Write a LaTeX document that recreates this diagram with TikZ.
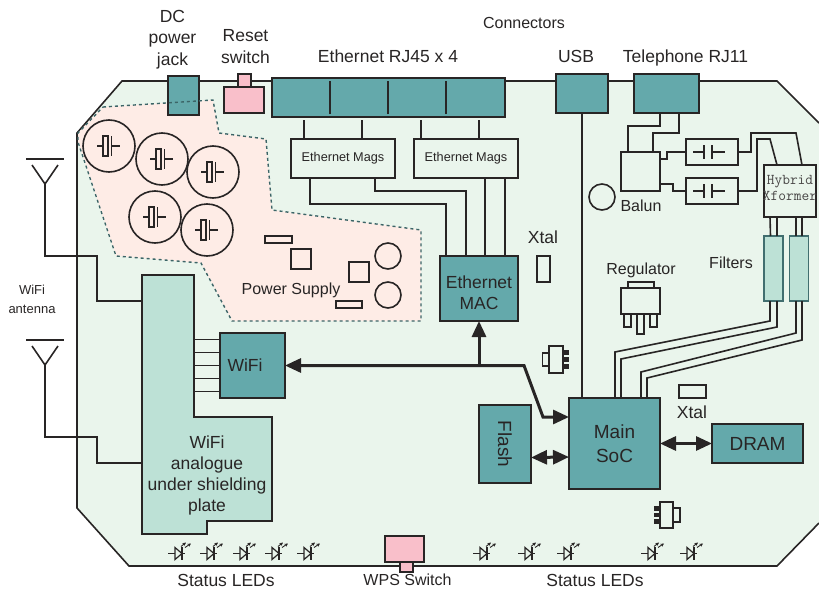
\documentclass[tikz,border=0pt]{standalone}
\usepackage{fontspec}
\setmainfont{Liberation Sans}
\definecolor{boardgreen}{RGB}{234, 245, 236}
\definecolor{portteal}{RGB}{100, 169, 171}
\definecolor{paleteal}{RGB}{189, 225, 214}
\definecolor{switchpink}{RGB}{249, 191, 202}
\definecolor{supplypink}{RGB}{254, 236, 230}
\definecolor{inkgrey}{RGB}{40, 37, 37}
\usetikzlibrary{arrows.meta, positioning, calc}

\begin{document}
\begin{tikzpicture}[
  x=1pt, y=-1pt,
  line width=1.6pt, draw=inkgrey, text=inkgrey,
  part/.style={draw=inkgrey, rectangle, inner sep=0pt, outer sep=0pt},
  tealbox/.style={part, fill=portteal, line width=1.7pt},
  pinkbox/.style={part, fill=switchpink, line width=1.6pt},
  filterbox/.style={part, fill=paleteal, draw=portteal!65!black, line width=1.4pt, minimum width=19pt, minimum height=65pt},
  magsbox/.style={part, minimum width=104pt, minimum height=39pt, font=\fontsize{12.7}{15}\selectfont},
  capbox/.style={part, minimum width=52pt, minimum height=26pt},
  smallpart/.style={part, fill=none},
  roundcan/.style={part, circle, minimum size=52pt},
  roundpart/.style={part, circle, minimum size=26pt},
  pinpart/.style={rectangle, inner sep=0pt, outer sep=0pt, fill=inkgrey, minimum width=6.5pt, minimum height=4.5pt},
  toplabel/.style={inner sep=0pt, align=center, font=\fontsize{17.5}{21.5}\selectfont},
  midlabel/.style={inner sep=0pt, align=center, font=\fontsize{16}{19}\selectfont},
  chiplabel/.style={inner sep=0pt, align=center, font=\fontsize{19}{24}\selectfont},
  bus/.style={line width=3pt, {Triangle[length=16pt,width=14pt]}-{Triangle[length=16pt,width=14pt]}},
  busup/.style={line width=3pt, -{Triangle[length=16pt,width=14pt]}},
  canmark/.pic={
    \draw (-12,0) -- (-6,0);
    \draw (-6,-10) rectangle (-1,10);
    \draw (2.5,-10) -- (2.5,10);
    \draw (2.5,0) -- (11,0);
  },
  capmark/.pic={
    \draw (-19,0) -- (-8,0);
    \draw (-8,-7) -- (-8,7);
    \draw (0,-7) -- (0,7);
    \draw (0,0) -- (13,0);
  },
  ledmark/.pic={
    \draw[line width=1.2pt] (0,0) -- (7,0) (14,0) -- (17,0) (14,-6.5) -- (14,6.5);
    \draw[line width=1.2pt] (7,-6) -- (14,0) -- (7,6) -- cycle;
    \draw[line width=.9pt, -{Stealth[length=3.5pt,width=3.5pt]}] (13,-7) -- (18,-11);
    \draw[line width=.9pt, -{Stealth[length=3.5pt,width=3.5pt]}] (17,-6) -- (23,-10);
  }
]
  \useasboundingbox (0,0) rectangle (819,589);

  % Board outline
  \fill[boardgreen] (122,81) -- (777,81) -- (819,123) -- (819,523) -- (777,566) -- (129,566) -- (77,508) -- (77,133) -- cycle;
  \draw (819,123) -- (777,81) -- (122,81) -- (77,133) -- (77,508) -- (129,566) -- (777,566) -- (819,523);

  % Power supply area
  \fill[supplypink] (103,107) -- (213,100) -- (219,133) -- (266,139) -- (272,210) -- (421,230) -- (421,321) -- (232,321) -- (201,263) -- (116,256) -- (78,142) -- (78,133) -- cycle;

  % Connectors along the top
  \node[tealbox, minimum width=31pt, minimum height=39pt] (jack) at (183.5,95.5) {};
  \node[pinkbox, minimum width=13pt, minimum height=13pt] (resettop) at (244.5,80.5) {};
  \node[pinkbox, minimum width=40pt, minimum height=26pt] (reset) at (244,100) {};
  \node[tealbox, minimum width=233pt, minimum height=39pt] (rjport) at (388.5,97.5) {};
  \foreach \x in {58,116,174} {
    \draw ([xshift=\x pt,yshift=3pt]rjport.south west) -- ([xshift=\x pt,yshift=-3pt]rjport.north west);
  }
  \node[tealbox, minimum width=52pt, minimum height=39pt] (usb) at (582,93.5) {};
  \node[tealbox, minimum width=65pt, minimum height=39pt] (phone) at (666.5,93.5) {};

  \draw[draw=portteal!60!black, line width=1.4pt, dash pattern=on 3pt off 3pt] (103,107) -- (213,100) -- (219,133) -- (266,139) -- (272,210) -- (421,230) -- (421,321) -- (232,321) -- (201,263) -- (116,256) -- (78,142) -- (78,133) -- cycle;

  % Power supply parts
  \foreach \can/\x/\y in {cana/109/146, canb/162/159, canc/213/172, cand/155/217, cane/207/230} {
    \node[roundcan] (\can) at (\x,\y) {};
    \pic at (\can) {canmark};
  }
  \node[smallpart, minimum width=27pt, minimum height=7pt] (supplya) at (278.5,239.5) {};
  \node[smallpart, minimum width=20pt, minimum height=20pt] (supplyb) at (301,259) {};
  \node[smallpart, minimum width=20pt, minimum height=20pt] (supplyc) at (359,272) {};
  \node[roundpart] (supplyd) at (388,256) {};
  \node[roundpart] (supplye) at (388,295) {};
  \node[smallpart, minimum width=26pt, minimum height=7pt] (supplyf) at (349,304.5) {};
  \node[midlabel] (supplytext) at (291,290) {Power Supply};

  % Ethernet
  \node[magsbox] (magsa) at (343,158.5) {Ethernet Mags};
  \node[magsbox] (magsb) at (466,158.5) {Ethernet Mags};
  \node[tealbox, font=\fontsize{17.5}{21}\selectfont, align=center, minimum width=78pt, minimum height=65pt] (mac) at (479,288.5) {\rule{0pt}{21pt}Ethernet\\MAC};
  \draw ([xshift=13pt]magsa.north west) -- ([xshift=13pt,yshift=19pt]magsa.north west);
  \draw ([xshift=71pt]magsa.north west) -- ([xshift=71pt,yshift=19pt]magsa.north west);
  \draw ([xshift=7pt]magsb.north west) -- ([xshift=7pt,yshift=19pt]magsb.north west);
  \draw ([xshift=65pt]magsb.north west) -- ([xshift=65pt,yshift=19pt]magsb.north west);
  \draw ([xshift=19pt]magsa.south west) -- ++(0,26) -| ([xshift=6pt]mac.north west);
  \draw ([xshift=84pt]magsa.south west) -- ++(0,13) -| ([xshift=26pt]mac.north west);
  \draw ([xshift=71pt]magsb.south west) -- ([xshift=45pt]mac.north west);
  \draw ([xshift=91pt]magsb.south west) -- ([xshift=65pt]mac.north west);

  % Xtal next to the MAC
  \node[toplabel] (xtala) at (543,237) {Xtal};
  \node[smallpart, minimum width=13pt, minimum height=26pt] (xtalabox) at (543.5,269) {};

  % Antennas
  \foreach \ant/\y in {anta/159, antb/340} {
    \coordinate (\ant) at (45,\y+25);
    \draw (26,\y) -- (64,\y);
    \draw (32,\y+6) -- (\ant) -- (58,\y+6);
  }
  \node[inner sep=0pt, align=center, font=\fontsize{13}{19}\selectfont] (antlabel) at (32,299.5) {WiFi\\antenna};

  % WiFi block
  \draw[fill=paleteal] (142,275) -- (194,275) -- (194,417) -- (272,417) -- (272,521) -- (207,521) -- (207,534) -- (142,534) -- cycle;
  \coordinate (shield) at (142,301);
  \coordinate (shieldb) at (142,463);
  \coordinate (shieldc) at (194,366);
  \node[inner sep=0pt, align=center, font=\fontsize{17.5}{21.3}\selectfont] (shieldtext) at (207,475.5) {WiFi\\analogue\\under shielding\\plate};
  \draw (anta) |- (97,256) |- (shield);
  \draw (antb) |- (97,437) |- (shieldb);
  \node[tealbox, toplabel, minimum width=65pt, minimum height=65pt, text depth=0pt] (wifi) at (252.5,365.5) {\hspace*{-15pt}WiFi};
  \foreach \y in {-26,-13,0,13,26} {
    \draw ([yshift=\y pt]wifi.west) -- ([yshift=\y pt]wifi.west -| shieldc);
  }

  % SoC and memories
  \node[tealbox, chiplabel, minimum width=91pt, minimum height=91pt] (soc) at (614.5,443.5) {Main\\SoC};
  \node[tealbox, chiplabel, minimum width=78pt, minimum height=52pt, rotate=-90] (flash) at (505,444) {Flash};
  \node[tealbox, chiplabel, minimum width=91pt, minimum height=39pt] (dram) at (757.5,443.5) {DRAM};
  \draw ([xshift=-32.5pt]soc.north) -- ([xshift=-32.5pt]soc.north |- usb.south);
  \coordinate (benda) at (524,365.5);
  \coordinate (bendb) at (543,417);
  \coordinate (tee) at (479,365.5);
  \draw[bus] (wifi.east) -- (benda) -- (bendb) -- ([yshift=26.5pt]soc.west);
  \draw[busup] (tee) -- (mac.south);
  \draw[bus] ([yshift=-13.5pt]flash.north) -- ([yshift=-13.5pt]soc.west);
  \draw[bus] (soc.east) -- (dram.west);
  \node[smallpart, minimum width=27pt, minimum height=13pt] (xtalb) at (692.5,391.5) {};
  \node[toplabel] (xtalbtext) at (692,412) {Xtal};

  % Telephone side
  \node[part, minimum width=39pt, minimum height=39pt] (balun) at (640.5,171.5) {};
  \node[roundpart] (baluncan) at (602,197) {};
  \node[midlabel] (baluntext) at (641,206) {Balun};
  \node[capbox] (capa) at (712,152) {};
  \node[capbox] (capb) at (712,191) {};
  \pic at (capa) {capmark};
  \pic at (capb) {capmark};
  \node[part, minimum width=52pt, minimum height=52pt] (hybrid) at (790,191) {};
  \node[inner sep=0pt, align=center, text=inkgrey!85, font=\ttfamily\fontsize{15}{16}\selectfont] (hybridtext) at (790,188) {Hybrid\\Xformer};
  \draw ([xshift=26pt]phone.south west) |- (628,126) -- ([xshift=-12.5pt]balun.north);
  \draw ([xshift=45pt]phone.south west) |- (653,133) -- ([xshift=12.5pt]balun.north);
  \draw ([yshift=-7pt]balun.north east) -- ++(7,0) |- (capa.west);
  \draw ([yshift=7pt]balun.south east) -- ++(13,0) |- (capb.west);
  \draw (capa.east) -- ++(13,0) |- (796,133) -- ([xshift=12pt]hybrid.north);
  \draw (capb.east) -- ++(19,0) |- (770,139) -- ([xshift=-13pt]hybrid.north);

  % Filters
  \node[filterbox] (filtera) at (773.5,268.5) {};
  \node[filterbox] (filterb) at (799,268.5) {};
  \node[midlabel] (filtertext) at (731,263) {Filters};
  \draw ([xshift=-3pt]filtera.north) -- ([xshift=-20pt]hybrid.south);
  \draw ([xshift=3.5pt]filtera.north) -- ([xshift=-13pt]hybrid.south);
  \draw ([xshift=-3pt]filterb.north) -- ([xshift=6pt]hybrid.south);
  \draw ([xshift=3pt]filterb.north) -- ([xshift=12pt]hybrid.south);
  \draw ([xshift=-3.5pt]filtera.south) -- ++(0,20) -- (615,352) -- ([xshift=.5pt]soc.north);
  \draw ([xshift=3.5pt]filtera.south) -- ++(0,26) -- (621,359) -- ([xshift=6.5pt]soc.north);
  \draw ([xshift=-3pt]filterb.south) -- ++(0,32) -- (641,372) -- ([xshift=26.5pt]soc.north);
  \draw ([xshift=3pt]filterb.south) -- ++(0,39) -- (647,378) -- ([xshift=32.5pt]soc.north);

  % Regulator
  \node[midlabel] (regtext) at (641,270) {Regulator};
  \node[smallpart, minimum width=26pt, minimum height=6pt] (regtab) at (641,285) {};
  \node[smallpart, minimum width=39pt, minimum height=26pt] (regbody) at (640.5,301) {};
  \node[smallpart, minimum width=7pt, minimum height=13pt] (regpina) at (627.5,320.5) {};
  \node[smallpart, minimum width=7pt, minimum height=20pt] (regpinb) at (640.5,324) {};
  \node[smallpart, minimum width=7pt, minimum height=13pt] (regpinc) at (653.5,320.5) {};

  % Small transistors
  \node[smallpart, minimum width=7pt, minimum height=13pt] (sota) at (546,359.5) {};
  \node[smallpart, minimum width=14pt, minimum height=27pt] (sotabody) at (556,359.5) {};
  \foreach \y in {-7,0,7} {
    \node[pinpart] at ([xshift=3pt,yshift=\y pt]sotabody.east) {};
  }
  \node[smallpart, minimum width=7pt, minimum height=14pt] (sotb) at (676.5,515) {};
  \node[smallpart, minimum width=13pt, minimum height=26pt] (sotbbody) at (666.5,515) {};
  \foreach \y in {-6.5,0,6.5} {
    \node[pinpart] at ([xshift=-3pt,yshift=\y pt]sotbbody.west) {};
  }

  % LEDs
  \foreach \x in {168,200,233,265,297,473,518,557,641,680} {
    \pic at (\x,553.5) {ledmark};
  }

  % WPS switch
  \node[pinkbox, minimum width=39pt, minimum height=26pt] (wps) at (404.5,549) {};
  \node[pinkbox, minimum width=13pt, minimum height=10pt] (wpstab) at (406.5,567) {};

  % Labels
  \node[toplabel] (jacktext) at (172.5,39.5) {DC\\power\\jack};
  \node[toplabel] (resettext) at (245.5,46.5) {Reset\\switch};
  \node[toplabel] (rjtext) at (388,56) {Ethernet RJ45 x 4};
  \node[midlabel] (conntext) at (524,23) {Connectors};
  \node[toplabel] (usbtext) at (576,56) {USB};
  \node[toplabel] (phonetext) at (685.5,57.5) {Telephone RJ11};
  \node[toplabel] (ledtexta) at (226,580) {Status LEDs};
  \node[midlabel] (wpstext) at (407.5,580) {WPS Switch};
  \node[toplabel] (ledtextb) at (595,580) {Status LEDs};
\end{tikzpicture}
\end{document}
